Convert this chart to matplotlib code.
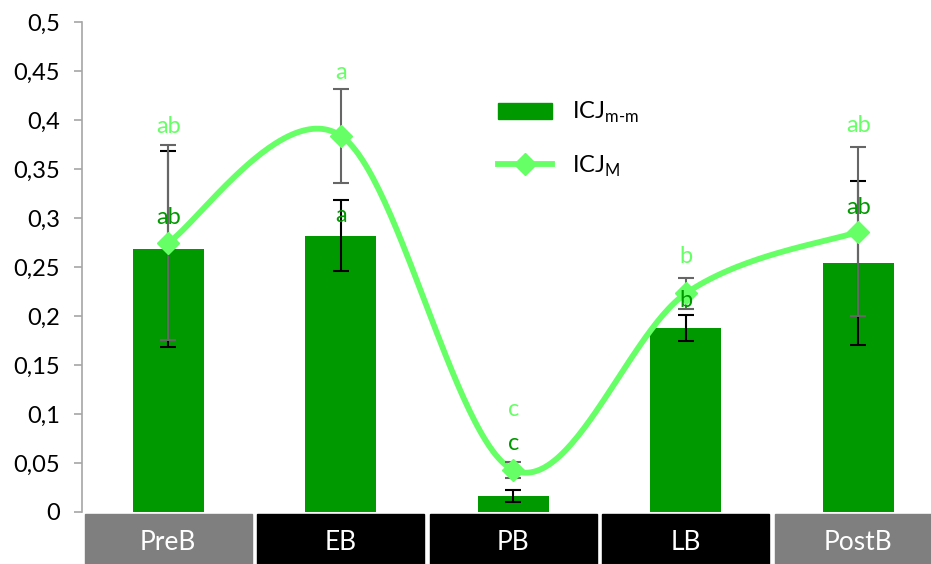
import numpy as np
import matplotlib
matplotlib.use('Agg')
import matplotlib.pyplot as plt
from matplotlib.patches import Patch, Rectangle
from matplotlib.lines import Line2D
from matplotlib.transforms import blended_transform_factory

plt.rcParams['font.family'] = ['Lato', 'DejaVu Sans']
plt.rcParams['mathtext.fontset'] = 'custom'
plt.rcParams['mathtext.rm'] = 'Lato'

# Phases and values
phases = ['PreB', 'EB', 'PB', 'LB', 'PostB']
phase_colors = ['#7f7f7f', '#000000', '#000000', '#000000', '#7f7f7f']
icj_mm = [0.268, 0.282, 0.016, 0.188, 0.254]
icj_mm_err = [0.100, 0.036, 0.006, 0.0135, 0.084]
icj_M = [0.275, 0.384, 0.043, 0.223, 0.286]
icj_M_err = [0.099, 0.048, 0.008, 0.016, 0.086]
letters_mm = ['ab', 'a', 'c', 'b', 'ab']
letters_mm_y = [0.300, 0.303, 0.070, 0.216, 0.311]
letters_M = ['ab', 'a', 'c', 'b', 'ab']
letters_M_y = [0.393, 0.448, 0.105, 0.261, 0.394]

dark_green = '#009900'
light_green = '#66ff66'


def smooth_curve(xs, ys, n=60):
    # cubic Bezier through the points, Catmull-Rom style control points
    pts = np.column_stack([xs, ys]).astype(float)
    padded = np.vstack([pts[0], pts, pts[-1]])
    out = []
    t = np.linspace(0, 1, n)[:, None]
    for i in range(len(pts) - 1):
        p0, p1 = padded[i + 1], padded[i + 2]
        c1 = p0 + (padded[i + 2] - padded[i]) / 6
        c2 = p1 - (padded[i + 3] - padded[i + 1]) / 6
        seg = ((1 - t) ** 3) * p0 + 3 * ((1 - t) ** 2) * t * c1 + 3 * (1 - t) * t ** 2 * c2 + t ** 3 * p1
        out.append(seg if i == 0 else seg[1:])
    curve = np.vstack(out)
    return curve[:, 0], curve[:, 1]


fig = plt.figure(figsize=(9.31, 5.64), dpi=100)
ax = fig.add_axes([82 / 931, 52 / 564, 862.5 / 931, 490 / 564])

x = np.arange(len(phases))

ax.bar(x, icj_mm, width=0.41, color=dark_green, zorder=2)
ax.errorbar(x, icj_mm, yerr=icj_mm_err, fmt='none', ecolor='black',
            elinewidth=1.5, capsize=6, capthick=1.5, zorder=3)

cx, cy = smooth_curve(x, icj_M)
ax.plot(cx, cy, color=light_green, lw=4.2, solid_capstyle='round', zorder=4)
ax.errorbar(x, icj_M, yerr=icj_M_err, fmt='none', ecolor='#666666',
            elinewidth=1.5, capsize=6, capthick=1.5, zorder=5)
ax.plot(x, icj_M, ls='none', marker='D', ms=11, color=light_green, zorder=6)

for i in range(len(phases)):
    ax.text(x[i], letters_mm_y[i], letters_mm[i], color=dark_green, fontsize=17,
            ha='center', va='center', zorder=7)
    ax.text(x[i], letters_M_y[i], letters_M[i], color=light_green, fontsize=17,
            ha='center', va='center', zorder=7)

# Phase boxes under the plot
trans = blended_transform_factory(ax.transData, fig.transFigure)
for i, name in enumerate(phases):
    ax.add_patch(Rectangle((i - 0.5 + 0.017, 0), 1 - 0.034, 50 / 564,
                           transform=trans, color=phase_colors[i], clip_on=False))
    ax.text(i, 21.5 / 564, name, transform=trans, color='white', fontsize=19,
            ha='center', va='center')

ax.set_xlim(-0.5, 4.5)
ax.set_ylim(0, 0.5)
ax.set_yticks(np.arange(0, 0.501, 0.05))
ax.set_yticklabels(['0'] + [('%g' % v).replace('.', ',') for v in np.arange(0.05, 0.501, 0.05)])
ax.set_xticks([])
for side in ['top', 'right', 'bottom']:
    ax.spines[side].set_visible(False)
ax.spines['left'].set_color('#a6a6a6')
ax.spines['left'].set_linewidth(1.2)
ax.tick_params(axis='y', length=6, width=1.2, color='#a6a6a6', labelsize=17, pad=10)

handles = [Patch(color=dark_green),
           Line2D([], [], color=light_green, lw=4.2, marker='D', ms=11)]
labels = [r'ICJ$_{\rm m\text{-}m}$', r'ICJ$_{\rm M}$']
ax.legend(handles, labels, loc='upper left', bbox_to_anchor=(498 / 931, 1 - 100 / 564),
          bbox_transform=fig.transFigure, frameon=False, fontsize=17,
          borderpad=0, borderaxespad=0, handlelength=2.3, handleheight=0.65,
          handletextpad=0.85, labelspacing=1.2)

fig.savefig('out.png', dpi=100)
